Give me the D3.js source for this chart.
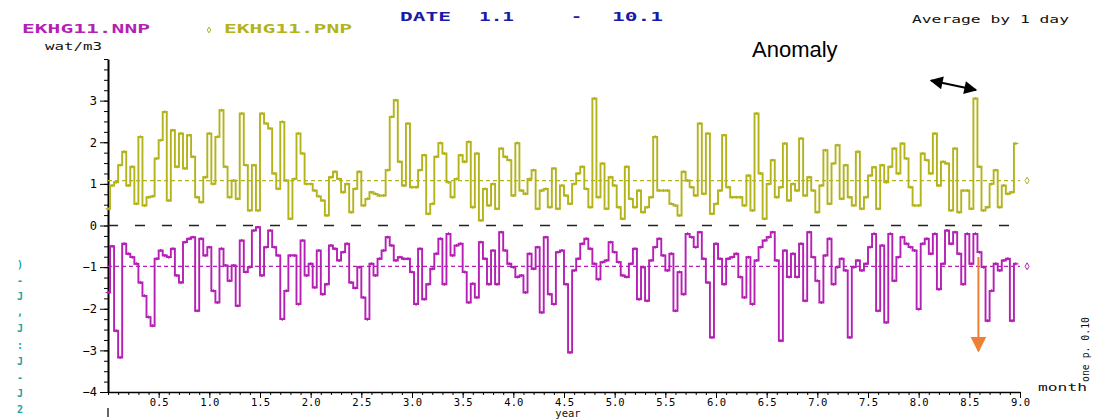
<!DOCTYPE html>
<html>
<head>
<meta charset="utf-8">
<title>EKHG11 NNP / PNP</title>
<script src="https://d3js.org/d3.v7.min.js"></script>
<style>
  body { margin: 0; background: #fff; }
</style>
</head>
<body>
<svg width="1093" height="419" id="mainsvg" font-family="DejaVu Sans Mono, monospace"></svg>
<script>
// one value every 0.04 on the "year" axis
const step = 0.04;

const pnpValues = [
  0.40, 0.96, 1.04, 1.45, 1.77, 0.96, 1.41, 0.52, 2.13, 0.48,
  0.68, 0.70, 1.61, 2.05, 2.73, 0.60, 2.29, 1.41, 2.21, 1.37,
  2.17, 1.65, 0.68, 0.56, 1.16, 2.21, 1.00, 2.13, 2.77, 1.41,
  0.68, 1.08, 0.64, 2.69, 1.45, 0.36, 1.45, 0.36, 2.69, 2.45,
  2.33, 1.25, 0.88, 2.49, 1.08, 0.16, 1.12, 2.21, 1.73, 1.00,
  1.00, 0.84, 0.70, 0.60, 0.24, 1.16, 1.29,
  1.12, 0.80, 1.00, 0.32, 0.88, 1.29, 0.48, 0.64, 0.80, 0.76,
  0.72, 0.72, 1.33, 2.61, 3.01, 1.53, 0.96, 2.45, 0.92, 0.92,
  1.33, 1.69, 0.28, 0.52, 1.65, 1.98, 1.73, 1.04, 0.68, 1.12,
  1.69, 1.53, 2.01, 0.44, 1.73, 0.12, 0.88, 0.48, 1.00, 0.40,
  1.85, 1.65, 1.57, 0.72, 1.98, 0.84, 0.76, 1.12, 1.33, 0.40,
  0.84, 0.88, 0.44, 1.37, 0.40, 0.96, 0.72, 0.52,
  1.00, 1.25, 1.41, 0.88, 0.44, 3.05, 0.68, 1.49, 0.40, 1.16,
  0.96, 0.44, 0.16, 1.41, 0.64, 0.44, 0.84, 0.32, 0.44, 0.68,
  2.13, 0.84, 0.84, 0.84, 0.52, 0.48, 0.24, 1.29, 1.08, 0.92,
  0.72, 2.45, 0.76, 2.21, 0.28, 0.52, 0.84, 2.17, 0.92, 0.68,
  0.68, 0.68, 0.48, 1.20, 0.36, 2.69, 1.25, 0.16, 1.00, 1.57,
  0.68, 0.92, 1.97, 0.60, 1.00, 0.84,
  2.09, 0.72, 1.16, 0.84, 0.32, 0.96, 1.81, 0.52, 1.49, 1.93,
  0.64, 1.45, 0.68, 0.48, 1.77, 0.40, 0.68, 1.20, 1.40, 0.40,
  1.45, 1.04, 1.41, 1.85, 1.25, 1.97, 1.61, 0.92, 0.48, 0.48,
  1.73, 1.57, 1.25, 2.21, 0.96, 1.53, 1.49, 0.36, 1.85, 0.32,
  0.84, 0.84, 0.40, 3.05, 1.41, 0.36, 0.44, 1.00, 1.33, 0.44,
  0.96, 0.76, 0.80, 1.97
];

const nnpValues = [
  -1.61, -0.50, -2.53, -3.17, -0.44, -0.68, -0.76, -0.92, -1.37, -1.69,
  -2.20, -2.41, -0.80, -0.60, -0.72, -0.76, -0.56, -1.20, -1.37, -0.40,
  -0.32, -0.28, -2.05, -0.32, -0.72, -0.52, -1.57, -1.85, -0.56, -0.96,
  -1.33, -0.96, -1.93, -0.36, -1.12, -1.00, -0.12, -0.04, -1.20, -0.52,
  -0.12, -0.52, -0.72, -2.25, -1.57, -0.72, -0.72, -1.89, -0.36, -1.20,
  -0.92, -1.49, -0.60, -1.65, -1.41, -0.48, -0.56,
  -0.84, -0.64, -0.44, -1.37, -1.50, -1.00, -1.73, -2.25, -0.92, -1.20,
  -0.80, -0.60, -0.28, -0.48, -0.84, -0.76, -0.80, -0.80, -1.12, -1.89,
  -0.56, -1.77, -1.41, -1.04, -0.68, -0.32, -1.41, -0.20, -0.72, -0.48,
  -0.44, -1.12, -1.85, -1.40, -1.73, -0.40, -0.80, -1.41, -0.60, -1.41,
  -0.16, -0.60, -0.92, -1.00, -1.24, -1.20, -1.61, -0.68, -1.04, -0.52,
  -2.09, -0.28, -1.65, -1.89, -0.64, -0.60, -1.41, -3.05,
  -1.08, -0.80, -0.44, -0.32, -0.56, -0.92, -1.29, -0.88, -0.84, -0.40,
  -0.64, -0.88, -1.20, -1.24, -0.92, -0.56, -1.77, -1.00, -1.81, -0.84,
  -0.52, -0.32, -0.72, -1.08, -0.68, -2.05, -1.12, -1.65, -0.20, -0.28,
  -0.52, -0.16, -0.80, -1.37, -2.69, -0.44, -0.80, -1.41, -0.80, -0.76,
  -0.68, -1.24, -1.73, -0.76, -1.89, -0.84, -0.52, -0.36, -0.28, -0.16,
  -0.84, -2.77, -0.60, -1.24, -0.68, -1.24,
  -0.44, -1.81, -0.16, -0.76, -1.33, -1.85, -0.72, -0.32, -1.41, -1.00,
  -0.80, -1.08, -2.69, -1.00, -0.84, -1.08, -0.92, -0.52, -0.20, -2.05,
  -0.48, -2.33, -0.20, -1.33, -0.76, -0.28, -0.44, -0.52, -0.60, -2.01,
  -0.44, -0.32, -0.68, -0.20, -1.53, -0.92, -0.12, -0.44, -0.16, -0.68,
  -1.41, -0.20, -0.92, -0.20, -0.64, -1.00, -2.29, -1.57, -0.92, -1.08,
  -0.84, -0.80, -2.29, -0.92
];

const pnpMean = 1.08;
const nnpMean = -0.98;
const anomalyX = 8.56;   // year of the marked spike
const yLabels = [-4, -3, -2, -1, 0, 1, 2, 3];
const xLabels = d3.range(1, 19).map(d => d * 0.5);
const sideMarks = [')', '-', 'J', ',', 'J', ':', 'J', '-', 'J', '2'];

const olive = '#b3b31c';
const magenta = '#b41fb4';

const svg = d3.select('#mainsvg');
const x = d3.scaleLinear().domain([0, 9]).range([108, 1020]);
const y = d3.scaleLinear().domain([-4, 4]).range([392, 59]);

// ---- axes
const yMinor = d3.axisLeft(y).tickValues(d3.range(-4, 4.001, 0.25)).tickSize(4).tickFormat('').tickSizeOuter(0);
const yMajor = d3.axisLeft(y).tickValues(yLabels).tickSize(8).tickPadding(3).tickSizeOuter(0);
svg.append('g').attr('transform', 'translate(108,0)').call(yMinor)
  .call(g => g.select('.domain').remove());
const yg = svg.append('g').attr('transform', 'translate(108,0)').call(yMajor);
yg.attr('font-family', null);
yg.select('.domain').attr('stroke-width', 2);
yg.selectAll('text').attr('font-size', 12).attr('fill', '#000');

const xMinor = d3.axisBottom(x).tickValues(d3.range(0, 9.001, 0.1)).tickSize(3).tickFormat('').tickSizeOuter(0);
const xMajor = d3.axisBottom(x).tickValues(xLabels).tickSize(6).tickPadding(1)
  .tickFormat(d3.format('.1f')).tickSizeOuter(0);
svg.append('g').attr('transform', 'translate(0,392)').call(xMinor)
  .call(g => g.select('.domain').remove());
const xg = svg.append('g').attr('transform', 'translate(0,392)').call(xMajor);
xg.attr('font-family', null);
xg.select('.domain').attr('stroke-width', 1.5);
xg.selectAll('text').attr('font-size', 10.5).attr('fill', '#000');

// ---- zero and mean lines
svg.append('line')
  .attr('x1', x(0)).attr('x2', x(9)).attr('y1', y(0)).attr('y2', y(0))
  .attr('stroke', '#222').attr('stroke-width', 1.5).attr('stroke-dasharray', '10,17');

[[pnpMean, olive], [nnpMean, magenta]].forEach(([m, c]) => {
  svg.append('line')
    .attr('x1', x(0)).attr('x2', x(9)).attr('y1', y(m)).attr('y2', y(m))
    .attr('stroke', c).attr('stroke-width', 1.2).attr('stroke-dasharray', '4,3');
  svg.append('path')
    .attr('d', d3.symbol(d3.symbolDiamond, 14)())
    .attr('transform', `translate(${x(9.07)},${y(m)})`)
    .attr('fill', 'none').attr('stroke', c).attr('stroke-width', 1);
});

// ---- series (stepped, like the original plotter output)
const line = d3.line().x((d, i) => x(i * step)).y(d => y(d)).curve(d3.curveStep);
const drawSeries = (values, color) => {
  svg.append('path').datum(values)
    .attr('d', line)
    .attr('fill', 'none').attr('stroke', color).attr('stroke-width', 1.9);
  svg.append('g').selectAll('path').data(values).join('path')
    .attr('d', 'M-2.5,0H2.5M0,-1.5V1.5')
    .attr('transform', (d, i) => `translate(${x(i * step)},${y(d)})`)
    .attr('stroke', color).attr('stroke-width', 1.2);
};
drawSeries(pnpValues, olive);
drawSeries(nnpValues, magenta);

// ---- header texts
svg.append('text').text('EKHG11.NNP').attr('x', 22).attr('y', 33)
  .attr('textLength', 128).attr('lengthAdjust', 'spacingAndGlyphs')
  .attr('font-size', 12).attr('font-weight', 'bold').attr('fill', magenta);
svg.append('path').attr('d', d3.symbol(d3.symbolDiamond, 10)())
  .attr('transform', 'translate(209,30)').attr('fill', 'none').attr('stroke', olive);
svg.append('text').text('EKHG11.PNP').attr('x', 224).attr('y', 33)
  .attr('textLength', 128).attr('lengthAdjust', 'spacingAndGlyphs')
  .attr('font-size', 12).attr('font-weight', 'bold').attr('fill', olive);

const dateParts = [['DATE', 400, 51], ['1.1', 479, 35], ['-', 571, 11], ['10.1', 612, 51]];
dateParts.forEach(([t, px, w]) => {
  svg.append('text').text(t).attr('x', px).attr('y', 21)
    .attr('textLength', w).attr('lengthAdjust', 'spacingAndGlyphs')
    .attr('font-size', 12).attr('font-weight', 'bold').attr('fill', '#1a1aa8');
});

svg.append('text').text('Average by 1 day').attr('x', 912).attr('y', 23)
  .attr('textLength', 157).attr('lengthAdjust', 'spacingAndGlyphs')
  .attr('font-size', 10.5).attr('fill', '#111');

svg.append('text').text('wat/m3').attr('x', 45).attr('y', 50)
  .attr('textLength', 57).attr('lengthAdjust', 'spacingAndGlyphs')
  .attr('font-size', 10.5).attr('fill', '#111');

svg.append('text').text('year').attr('x', 568).attr('y', 417)
  .attr('text-anchor', 'middle').attr('font-size', 10.5).attr('fill', '#111');
svg.append('text').text('month').attr('x', 1038).attr('y', 391)
  .attr('textLength', 49).attr('lengthAdjust', 'spacingAndGlyphs')
  .attr('font-size', 10.5).attr('fill', '#111');
svg.append('text').text('one p. 0.10')
  .attr('transform', 'translate(1089,382) rotate(-90)')
  .attr('textLength', 65).attr('lengthAdjust', 'spacingAndGlyphs')
  .attr('font-size', 11).attr('fill', '#111');

svg.append('line').attr('x1', x(0)).attr('x2', x(0)).attr('y1', 408).attr('y2', 417)
  .attr('stroke', '#333').attr('stroke-width', 1.5);

const markY = d3.scalePoint().domain(d3.range(sideMarks.length)).range([264, 409]);
svg.append('g').selectAll('text').data(sideMarks).join('text')
  .text(d => d).attr('x', 20).attr('y', (d, i) => markY(i) + 4)
  .attr('text-anchor', 'middle').attr('font-size', 10).attr('font-weight', 'bold')
  .attr('fill', '#1aa3a3');

// ---- annotation
svg.append('text').text('Anomaly').attr('x', 752).attr('y', 57)
  .style('font-family', '"Liberation Sans", Arial, sans-serif')
  .attr('font-size', 22).attr('fill', '#000');

const defs = svg.append('defs');
defs.append('marker').attr('id', 'blackHead')
  .attr('viewBox', '0 0 10 10').attr('refX', 9).attr('refY', 5)
  .attr('markerWidth', 15).attr('markerHeight', 13).attr('markerUnits', 'userSpaceOnUse')
  .attr('orient', 'auto-start-reverse')
  .append('path').attr('d', 'M0,0L10,5L0,10Z').attr('fill', '#000');
defs.append('marker').attr('id', 'orangeHead')
  .attr('viewBox', '0 0 10 10').attr('refX', 9).attr('refY', 5)
  .attr('markerWidth', 16).attr('markerHeight', 16).attr('markerUnits', 'userSpaceOnUse')
  .attr('orient', 'auto')
  .append('path').attr('d', 'M0,0L10,5L0,10Z').attr('fill', '#ef7f33');

svg.append('line').attr('x1', 931).attr('y1', 80.5).attr('x2', 976).attr('y2', 90)
  .attr('stroke', '#000').attr('stroke-width', 2)
  .attr('marker-start', 'url(#blackHead)').attr('marker-end', 'url(#blackHead)');

svg.append('line').attr('x1', x(anomalyX) + 3).attr('x2', x(anomalyX) + 3)
  .attr('y1', 257).attr('y2', 351)
  .attr('stroke', '#ef7f33').attr('stroke-width', 2)
  .attr('marker-end', 'url(#orangeHead)');
</script>
</body>
</html>
